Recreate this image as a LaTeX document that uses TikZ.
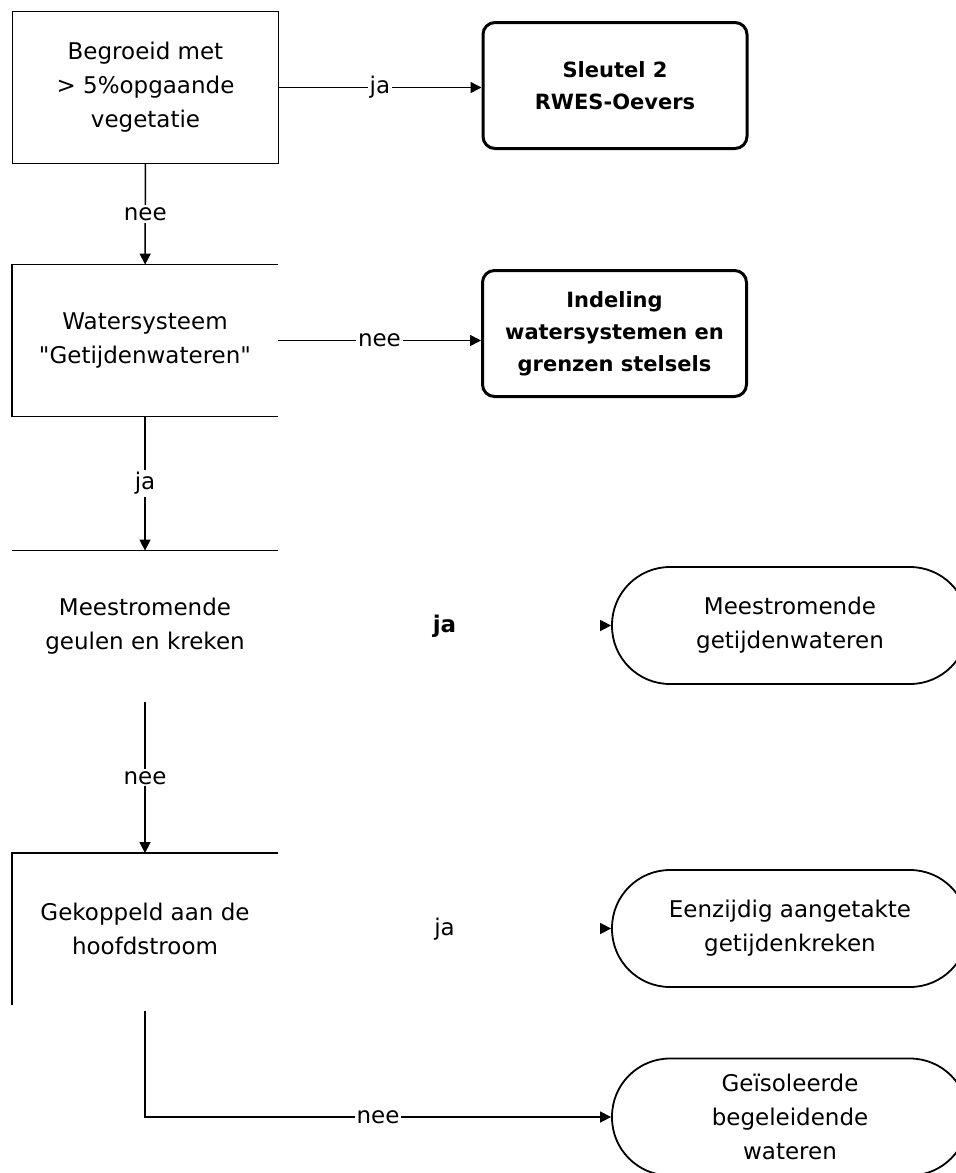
\documentclass[tikz,border=0pt]{standalone}
\usepackage{fontspec}
\setmainfont{DejaVu Sans}
\usetikzlibrary{arrows.meta}
\usetikzlibrary{positioning}

\begin{document}
\begin{tikzpicture}[>={Triangle[length=5.5pt,width=5.5pt]},x=0.5pt,y=-0.5pt,
    txt/.style={font=\fontsize{11.5}{17}\selectfont,align=center},
    vraag/.style={txt,rectangle,inner sep=0pt,minimum width=132.5pt,minimum height=75.5pt},
    eind/.style={draw,line width=1.5pt,rounded corners=6pt,align=center,inner sep=0pt,
        minimum width=132pt,minimum height=63pt,font=\fontsize{10.5}{16}\selectfont\bfseries},
    type/.style={txt,draw,line width=0.9pt,rounded corners=29pt,inner sep=0pt,
        minimum width=178pt,minimum height=58.5pt},
    lbl/.style={txt,fill=white,inner sep=1pt},
    lijn/.style={line width=0.75pt}]
                        \useasboundingbox (0,0) rectangle (956,1173);
                        \clip (0,0) rectangle (956,1173);
                        \node[vraag] (veg) at (145.5,87.5) {Begroeid met\\> 5\%opgaande\\vegetatie};
                        \node[vraag] (wsys) at (145,340.5) {Watersysteem\\\textquotedbl Getijdenwateren\textquotedbl};
                        \node[vraag] (geul) at (145,626.5) {Meestromende\\geulen en kreken};
                        \node[vraag] (kop) at (145,929) {Gekoppeld aan de\\hoofdstroom};
                        \node[eind] (sleutel) at (615,85.5) {Sleutel 2\\RWES-Oevers};
                        \node[eind] (indeling) at (614.5,333.5) {Indeling\\watersystemen en\\grenzen stelsels};
                        \node[type] (meest) at (790,625.5) {Meestromende\\getijdenwateren};
                        \node[type] (eenz) at (790,928.5) {Eenzijdig aangetakte\\getijdenkreken};
                        \node[type] (iso) at (790,1117) {Geïsoleerde\\begeleidende\\wateren};
                        \draw[lijn] (veg.north west) rectangle (veg.south east);
                        \draw[lijn] (wsys.north east) -- (wsys.north west) -- (wsys.south west) -- (wsys.south east);
                        \draw[lijn] (geul.north west) -- (geul.north east);
                        \draw[lijn] (kop.north east) -- (kop.north west) -- (kop.south west);
                        \draw[lijn,->] (veg.east) -- node[lbl] {ja} (veg.east -| sleutel.west);
                        \draw[lijn,->] (veg) -- node[lbl] {nee} (wsys);
                        \draw[lijn,->] (wsys.east) -- node[lbl] {nee} (wsys.east -| indeling.west);
                        \draw[lijn,->] (wsys) -- node[lbl] {ja} (geul);
                        \path (geul) -- node[txt,font=\fontsize{11.5}{17}\selectfont\bfseries] {ja} (meest);
                        \draw[lijn,->] ([xshift=-5.5pt]meest.west) -- (meest.west);
                        \draw[lijn,->] (geul) -- node[lbl] {nee} (kop);
                        \path (kop) -- node[txt] {ja} (eenz);
                        \draw[lijn,->] ([xshift=-5.5pt]eenz.west) -- (eenz.west);
                        \draw[lijn,->] ([yshift=-3pt]kop.south) |- node[lbl,pos=0.75] {nee} (iso.west);
                    \end{tikzpicture}
\end{document}
